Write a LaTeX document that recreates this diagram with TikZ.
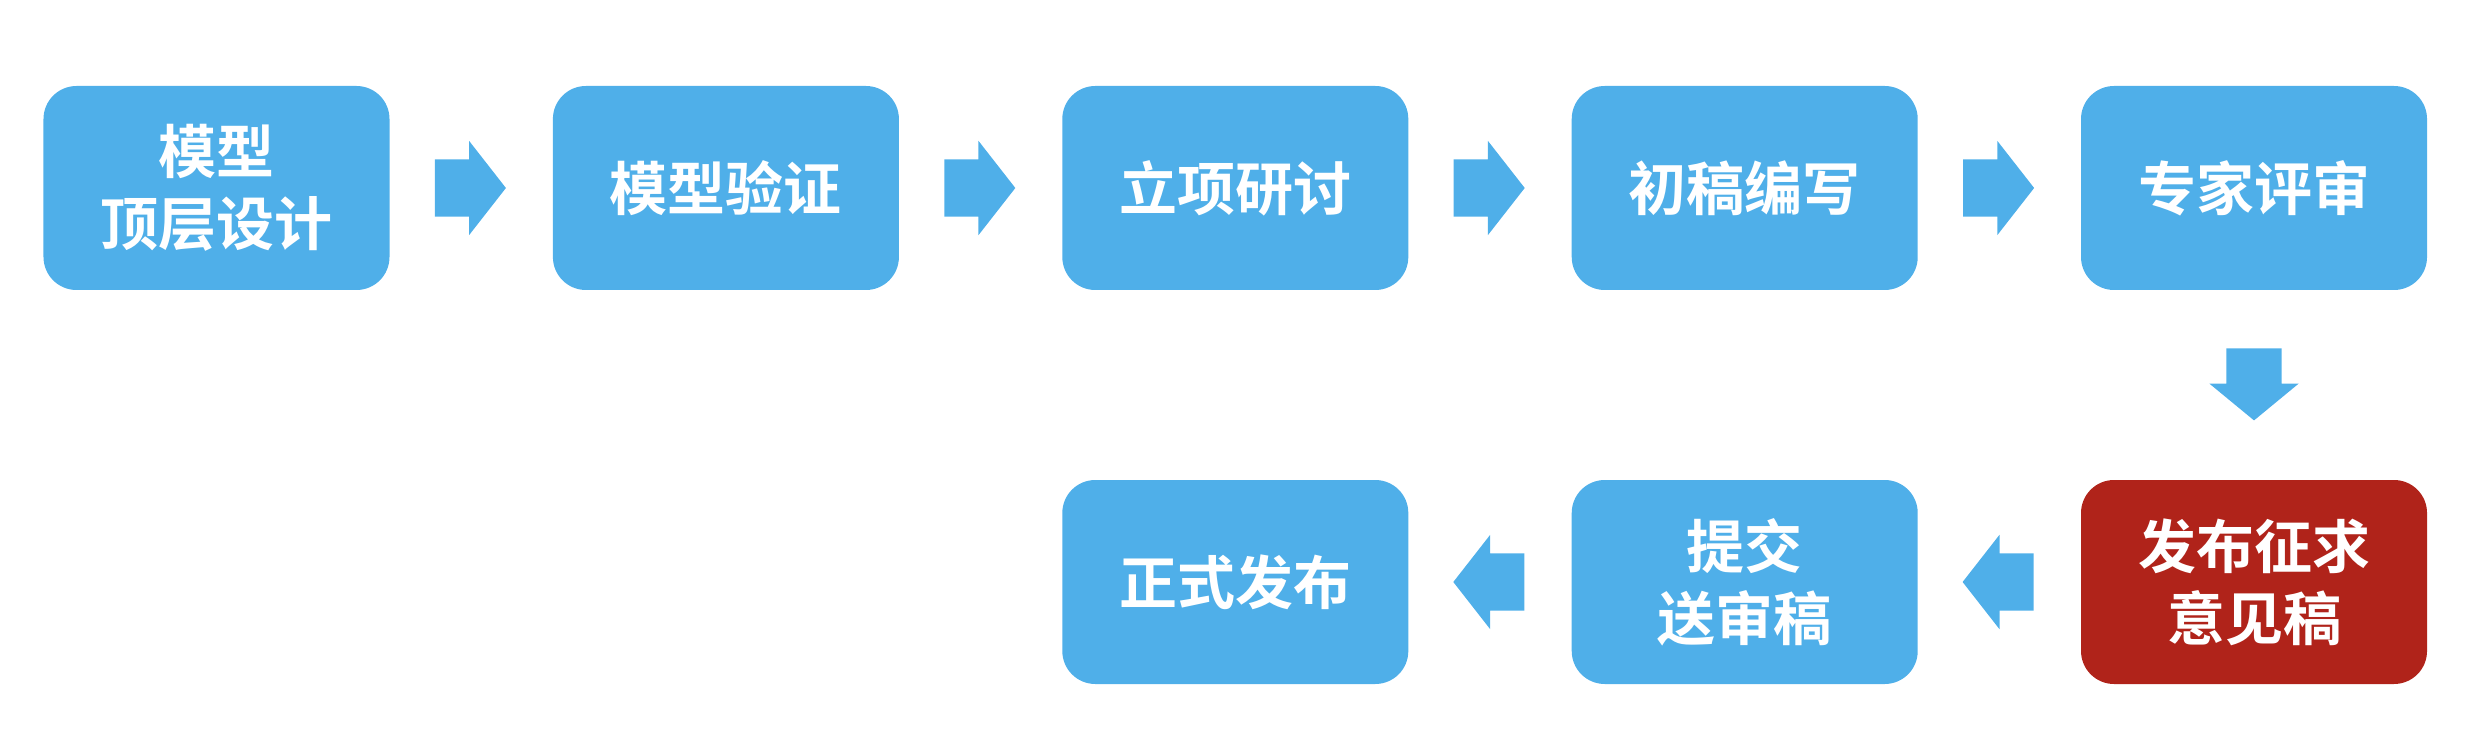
\documentclass[tikz,border=0pt]{standalone}
\usepackage{fontspec}
\newfontfamily\cjk{Noto Sans CJK SC}[BoldFont={Noto Sans CJK SC Bold}]
\usetikzlibrary{shapes.arrows}
\definecolor{stepblue}{RGB}{79,175,233}
\definecolor{stepred}{RGB}{176,35,26}

\begin{document}
\begin{tikzpicture}[
		stepbox/.style={rectangle,rounded corners=0.33cm,fill=stepblue,text=white,minimum width=3.46cm,minimum height=2.04cm,inner sep=0,align=center,font=\cjk\bfseries\fontsize{16.5pt}{20.5pt}\selectfont},
		flowarrow/.style={single arrow,fill=stepblue,anchor=tail,inner xsep=0,inner ysep=0.28cm,minimum height=0.71cm,single arrow head extend=0.185cm,single arrow tip angle=104}]
			\useasboundingbox (0,0) rectangle (24.66,7.36);
			% top row
			\node[stepbox] (m1) at (2.165,5.48) {模型\\顶层设计};
			\node[stepbox] (m2) at (7.259,5.48) {模型验证};
			\node[stepbox] (m3) at (12.353,5.48) {立项研讨};
			\node[stepbox] (m4) at (17.447,5.48) {初稿编写};
			\node[stepbox] (m5) at (22.54,5.48) {专家评审};
			% bottom row
			\node[stepbox,fill=stepred] (m6) at (22.54,1.54) {发布征求\\意见稿};
			\node[stepbox] (m7) at (17.447,1.54) {提交\\送审稿};
			\node[stepbox] (m8) at (12.353,1.54) {正式发布};
			% arrows
			\node[flowarrow] (a1) at ([xshift=0.44cm]m1.east) {};
			\node[flowarrow] (a2) at ([xshift=0.44cm]m2.east) {};
			\node[flowarrow] (a3) at ([xshift=0.44cm]m3.east) {};
			\node[flowarrow] (a4) at ([xshift=0.44cm]m4.east) {};
			\node[flowarrow,shape border rotate=270,inner xsep=0.27cm,inner ysep=0,minimum height=0.72cm,single arrow head extend=0.17cm,single arrow tip angle=101] (a5) at ([yshift=-0.57cm]m5.south) {};
			\node[flowarrow,shape border rotate=180] (a6) at ([xshift=-0.46cm]m6.west) {};
			\node[flowarrow,shape border rotate=180] (a7) at ([xshift=-0.46cm]m7.west) {};
		\end{tikzpicture}
\end{document}
